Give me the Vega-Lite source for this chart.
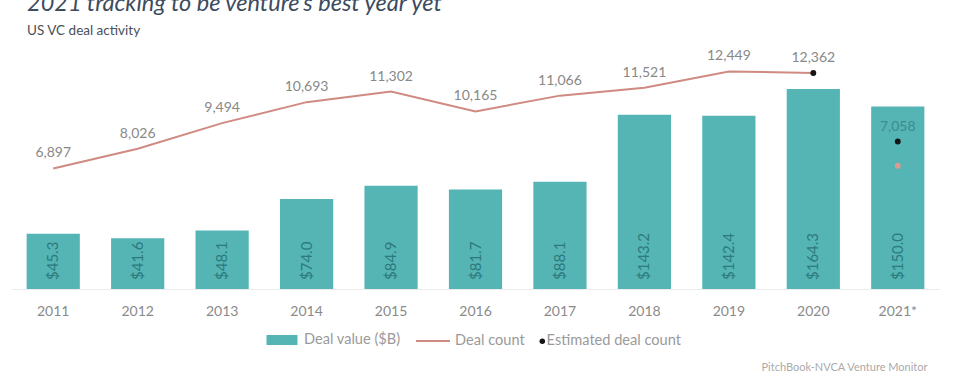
{
  "$schema": "https://vega.github.io/schema/vega-lite/v6.json",
  "autosize": "none",
  "width": 929,
  "height": 249,
  "padding": {"left": 11, "top": 40, "right": 20, "bottom": 89},
  "background": "white",
  "config": {"font": "Lato", "view": {"stroke": null}},
  "title": {
    "text": "2021 tracking to be venture's best year yet",
    "subtitle": "US VC deal activity",
    "anchor": "start",
    "frame": "group",
    "dx": 16,
    "offset": 3,
    "font": "Lato",
    "fontSize": 23.5,
    "fontStyle": "italic",
    "fontWeight": "normal",
    "color": "#3d4b5f",
    "subtitleFont": "Lato",
    "subtitleFontSize": 13.5,
    "subtitleColor": "#4a4f57",
    "subtitlePadding": 8
  },
  "data": {"values": [
    {"year": "2011", "value": 45.3, "count": 6897},
    {"year": "2012", "value": 41.6, "count": 8026},
    {"year": "2013", "value": 48.1, "count": 9494},
    {"year": "2014", "value": 74.0, "count": 10693},
    {"year": "2015", "value": 84.9, "count": 11302},
    {"year": "2016", "value": 81.7, "count": 10165},
    {"year": "2017", "value": 88.1, "count": 11066},
    {"year": "2018", "value": 143.2, "count": 11521},
    {"year": "2019", "value": 142.4, "count": 12449},
    {"year": "2020", "value": 164.3, "count": 12362, "est": 12362},
    {"year": "2021*", "value": 150.0, "count": 7058, "est": 8440, "partial": true}
  ]},
  "encoding": {
    "x": {
      "field": "year", "type": "ordinal",
      "scale": {"paddingInner": 0.37, "paddingOuter": 0.185},
      "axis": {
        "title": "PitchBook-NVCA Venture Monitor",
        "titleFont": "Lato", "titleFontSize": 11, "titleFontWeight": "normal", "titleColor": "#aaaaaa",
        "titleAnchor": "end", "titleAlign": "right", "titleBaseline": "middle",
        "titleX": 916, "titleY": 78,
        "labelAngle": 0, "labelFontSize": 14, "labelColor": "#8a8a8a", "labelPadding": 15,
        "ticks": false, "domainColor": "#ececec", "domainWidth": 1, "grid": false
      }
    }
  },
  "layer": [
    {
      "mark": {"type": "bar"},
      "encoding": {
        "y": {"field": "value", "type": "quantitative", "scale": {"domain": [0, 204.6]}, "axis": null},
        "fill": {"datum": "Deal value ($B)", "scale": {"range": ["#55b5b5"]},
          "legend": {"orient": "none", "legendX": 261, "legendY": 290, "title": null,
            "symbolType": "M-1.55,-0.5H1.55V0.5H-1.55Z", "symbolSize": 400, "symbolStrokeWidth": 0,
            "labelFontSize": 14.6, "labelColor": "#9a9a9a", "labelOffset": 12}}
      }
    },
    {
      "mark": {"type": "text", "angle": 270, "align": "left", "baseline": "middle", "dx": 9, "fontSize": 15, "color": "#2c7a7c"},
      "encoding": {
        "y": {"datum": 0, "type": "quantitative", "scale": {"domain": [0, 204.6]}, "axis": null},
        "text": {"field": "value", "type": "quantitative", "format": "$.1f"}
      }
    },
    {
      "transform": [{"filter": "datum.partial !== true"}],
      "mark": {"type": "line", "strokeWidth": 2},
      "encoding": {
        "y": {"field": "count", "type": "quantitative", "scale": {"domain": [0, 14250]}, "axis": null},
        "stroke": {"datum": "Deal count", "scale": {"range": ["#cf8a82"]},
          "legend": {"orient": "none", "legendX": 404, "legendY": 283, "title": null,
            "symbolType": "stroke", "symbolSize": 1156, "symbolStrokeWidth": 2,
            "labelFontSize": 14.6, "labelColor": "#9a9a9a", "labelOffset": 4}}
      }
    },
    {
      "transform": [{"filter": "datum.partial !== true"}],
      "mark": {"type": "text", "dy": -15, "fontSize": 14, "color": "#888888"},
      "encoding": {
        "y": {"field": "count", "type": "quantitative", "scale": {"domain": [0, 14250]}, "axis": null},
        "text": {"field": "count", "type": "quantitative", "format": ",d"}
      }
    },
    {
      "transform": [{"filter": "datum.partial === true"}],
      "mark": {"type": "point", "filled": true, "size": 35, "color": "#dc9a94", "opacity": 1},
      "encoding": {
        "y": {"field": "count", "type": "quantitative", "scale": {"domain": [0, 14250]}, "axis": null}
      }
    },
    {
      "transform": [{"filter": "datum.est != null"}],
      "mark": {"type": "point", "filled": true, "size": 35, "color": "#151515", "opacity": 1},
      "encoding": {
        "y": {"field": "est", "type": "quantitative", "scale": {"domain": [0, 14250]}, "axis": null},
        "shape": {"datum": "Estimated deal count", "scale": {"range": ["circle"]},
          "legend": {"orient": "none", "legendX": 524, "legendY": 294, "title": null,
            "symbolSize": 30, "symbolFillColor": "#151515", "symbolStrokeColor": "#151515",
            "labelFontSize": 14.6, "labelColor": "#9a9a9a", "labelOffset": -3}}
      }
    },
    {
      "transform": [{"filter": "datum.partial === true"}],
      "mark": {"type": "text", "dy": -15, "fontSize": 14, "color": "#3f8a8c"},
      "encoding": {
        "y": {"field": "est", "type": "quantitative", "scale": {"domain": [0, 14250]}, "axis": null},
        "text": {"field": "count", "type": "quantitative", "format": ",d"}
      }
    }
  ],
  "resolve": {"scale": {"y": "independent"}}
}
